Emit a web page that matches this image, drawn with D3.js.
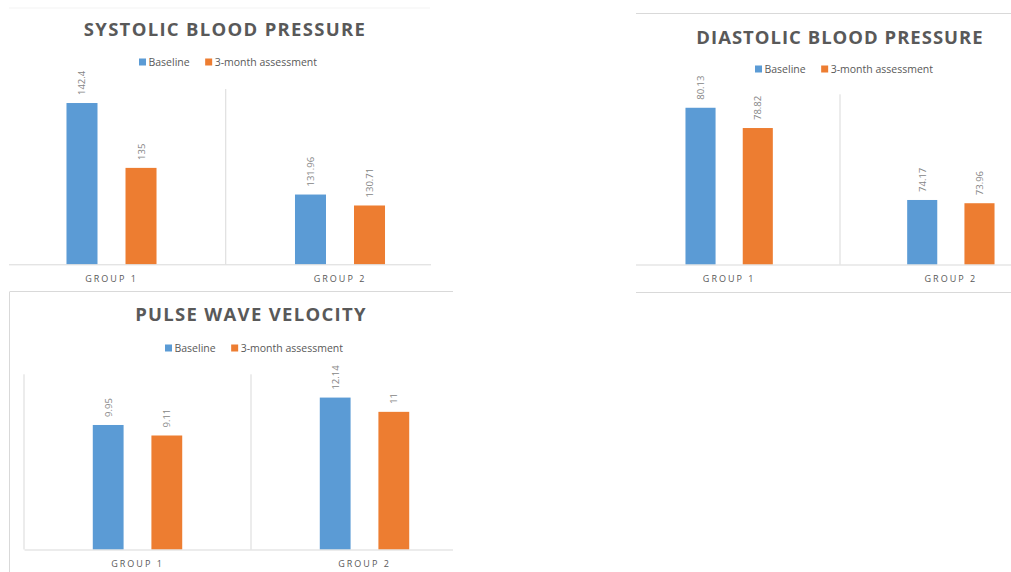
<!DOCTYPE html>
<html>
<head>
<meta charset="utf-8">
<script src="https://cdn.jsdelivr.net/npm/d3@7"></script>
<style>
  html, body { margin: 0; padding: 0; background: #ffffff; }
  svg { display: block; font-family: "Open Sans", "Noto Sans", sans-serif; }
</style>
</head>
<body>
<svg id="chart" width="1011" height="572"></svg>
<script>
// Groups and series shared by the three panels
const groups = ["GROUP 1", "GROUP 2"];
const seriesNames = ["Baseline", "3-month assessment"];
const seriesColors = ["#5B9BD5", "#ED7D31"];

// Systolic blood pressure (mmHg)
const systolicBaseline = [142.4, 131.96];
const systolicFollowUp = [135, 130.71];
const systolicDomain = [124, 144];

// Diastolic blood pressure (mmHg)
const diastolicBaseline = [80.13, 74.17];
const diastolicFollowUp = [78.82, 73.96];
const diastolicDomain = [70, 81];

// Pulse wave velocity (m/s)
const pwvBaseline = [9.95, 12.14];
const pwvFollowUp = [9.11, 11];
const pwvDomain = [0, 14];

const panels = [
  {
    title: "SYSTOLIC BLOOD PRESSURE",
    values: [systolicBaseline, systolicFollowUp],
    domain: systolicDomain,
    clip: { x: 9, y: 0, w: 422, h: 290 },
    xRange: [-2.75, 454.25],
    yRange: [264.3, 89],
    titleX: 225, titleY: 36, titleSpacing: 1.3,
    legendX: 228, legendY: 62,
    borders: [[9, 8, 430, 8, "#f3f3f3"]]
  },
  {
    title: "DIASTOLIC BLOOD PRESSURE",
    values: [diastolicBaseline, diastolicFollowUp],
    domain: diastolicDomain,
    clip: { x: 636, y: 13, w: 375, h: 280 },
    xRange: [618.3, 1061.7],
    yRange: [264.5, 94.3],
    titleX: 840, titleY: 43.5, titleSpacing: 1.0,
    legendX: 844, legendY: 69,
    borders: [[636, 13.5, 1011, 13.5, "#d9d9d9"], [636, 292.5, 1011, 292.5, "#d9d9d9"]]
  },
  {
    title: "PULSE WAVE VELOCITY",
    values: [pwvBaseline, pwvFollowUp],
    domain: pwvDomain,
    clip: { x: 10, y: 291, w: 443, h: 281 },
    xRange: [24, 478],
    yRange: [549.5, 374.3],
    titleX: 251, titleY: 321, titleSpacing: 1.3,
    legendX: 254, legendY: 348,
    borders: [[10, 291.5, 453, 291.5, "#d9d9d9"], [9.5, 291.5, 9.5, 572, "#d9d9d9"]]
  }
];

const svg = d3.select("#chart");
const defs = svg.append("defs");
const textGrey = "#595959";
const lineGrey = "#d9d9d9";

panels.forEach((p, i) => {
  // panel frame lines
  p.borders.forEach(b => {
    svg.append("line")
      .attr("x1", b[0]).attr("y1", b[1]).attr("x2", b[2]).attr("y2", b[3])
      .attr("stroke", b[4]).attr("stroke-width", 1);
  });

  defs.append("clipPath").attr("id", "clip" + i)
    .append("rect")
    .attr("x", p.clip.x).attr("y", p.clip.y)
    .attr("width", p.clip.w).attr("height", p.clip.h);

  const g = svg.append("g").attr("clip-path", `url(#clip${i})`);

  const x0 = d3.scaleBand().domain(groups).range(p.xRange);
  const half = x0.bandwidth() * 0.197;
  const x1 = d3.scaleBand().domain(seriesNames).range([-half, half]).paddingInner(28 / 59);
  const y = d3.scaleLinear().domain(p.domain).range(p.yRange);

  // vertical separators between categories
  const bounds = groups.map(c => x0(c)).concat([x0(groups[groups.length - 1]) + x0.bandwidth()]);
  g.selectAll(".sep").data(bounds).join("line")
    .attr("x1", d => d).attr("x2", d => d)
    .attr("y1", p.yRange[1]).attr("y2", p.yRange[0])
    .attr("stroke", lineGrey).attr("stroke-width", 1);

  // bars
  const rows = [];
  groups.forEach((grp, gi) => {
    seriesNames.forEach((s, si) => {
      rows.push({ group: grp, series: s, color: seriesColors[si], value: p.values[si][gi] });
    });
  });
  const cx = d => x0(d.group) + x0.bandwidth() / 2 + x1(d.series);

  g.selectAll(".bar").data(rows).join("rect")
    .attr("x", d => cx(d))
    .attr("width", x1.bandwidth())
    .attr("y", d => y(d.value))
    .attr("height", d => y(p.domain[0]) - y(d.value))
    .attr("fill", d => d.color);

  // rotated value labels
  g.selectAll(".val").data(rows).join("text")
    .attr("transform", d => `translate(${cx(d) + x1.bandwidth() / 2},${y(d.value) - 8}) rotate(-90)`)
    .attr("text-anchor", "start")
    .attr("dominant-baseline", "central")
    .attr("font-size", "9.5px")
    .attr("fill", "#858585")
    .text(d => String(d.value));

  // category axis
  const axis = g.append("g")
    .attr("transform", `translate(0,${p.yRange[0]})`)
    .call(d3.axisBottom(x0).tickSize(0).tickSizeOuter(0).tickPadding(11));
  axis.select(".domain").attr("stroke", lineGrey);
  axis.selectAll(".tick text")
    .attr("font-family", "'Open Sans', sans-serif")
    .attr("font-size", "9px")
    .attr("letter-spacing", "2px")
    .attr("fill", textGrey);

  // title
  g.append("text")
    .attr("x", p.titleX).attr("y", p.titleY)
    .attr("text-anchor", "middle")
    .attr("font-size", "18.5px")
    .attr("font-weight", "bold")
    .attr("letter-spacing", p.titleSpacing + "px")
    .attr("fill", textGrey)
    .text(p.title);

  // legend
  const leg = g.append("g");
  const items = leg.selectAll(".item").data(seriesNames).join("g");
  items.append("rect")
    .attr("width", 7).attr("height", 7)
    .attr("y", p.legendY - 3.5)
    .attr("fill", (d, k) => seriesColors[k]);
  items.append("text")
    .attr("y", p.legendY)
    .attr("dominant-baseline", "central")
    .attr("font-size", "10.5px")
    .attr("fill", textGrey)
    .text(d => d);
  let offset = 0;
  const pos = [];
  items.each(function () {
    const w = d3.select(this).select("text").node().getComputedTextLength();
    pos.push(offset);
    offset += 9.5 + w + 15.5;
  });
  const total = offset - 15.5;
  const start = p.legendX - total / 2;
  items.each(function (d, k) {
    const it = d3.select(this);
    it.select("rect").attr("x", start + pos[k]);
    it.select("text").attr("x", start + pos[k] + 9.5);
  });
});
</script>
</body>
</html>
